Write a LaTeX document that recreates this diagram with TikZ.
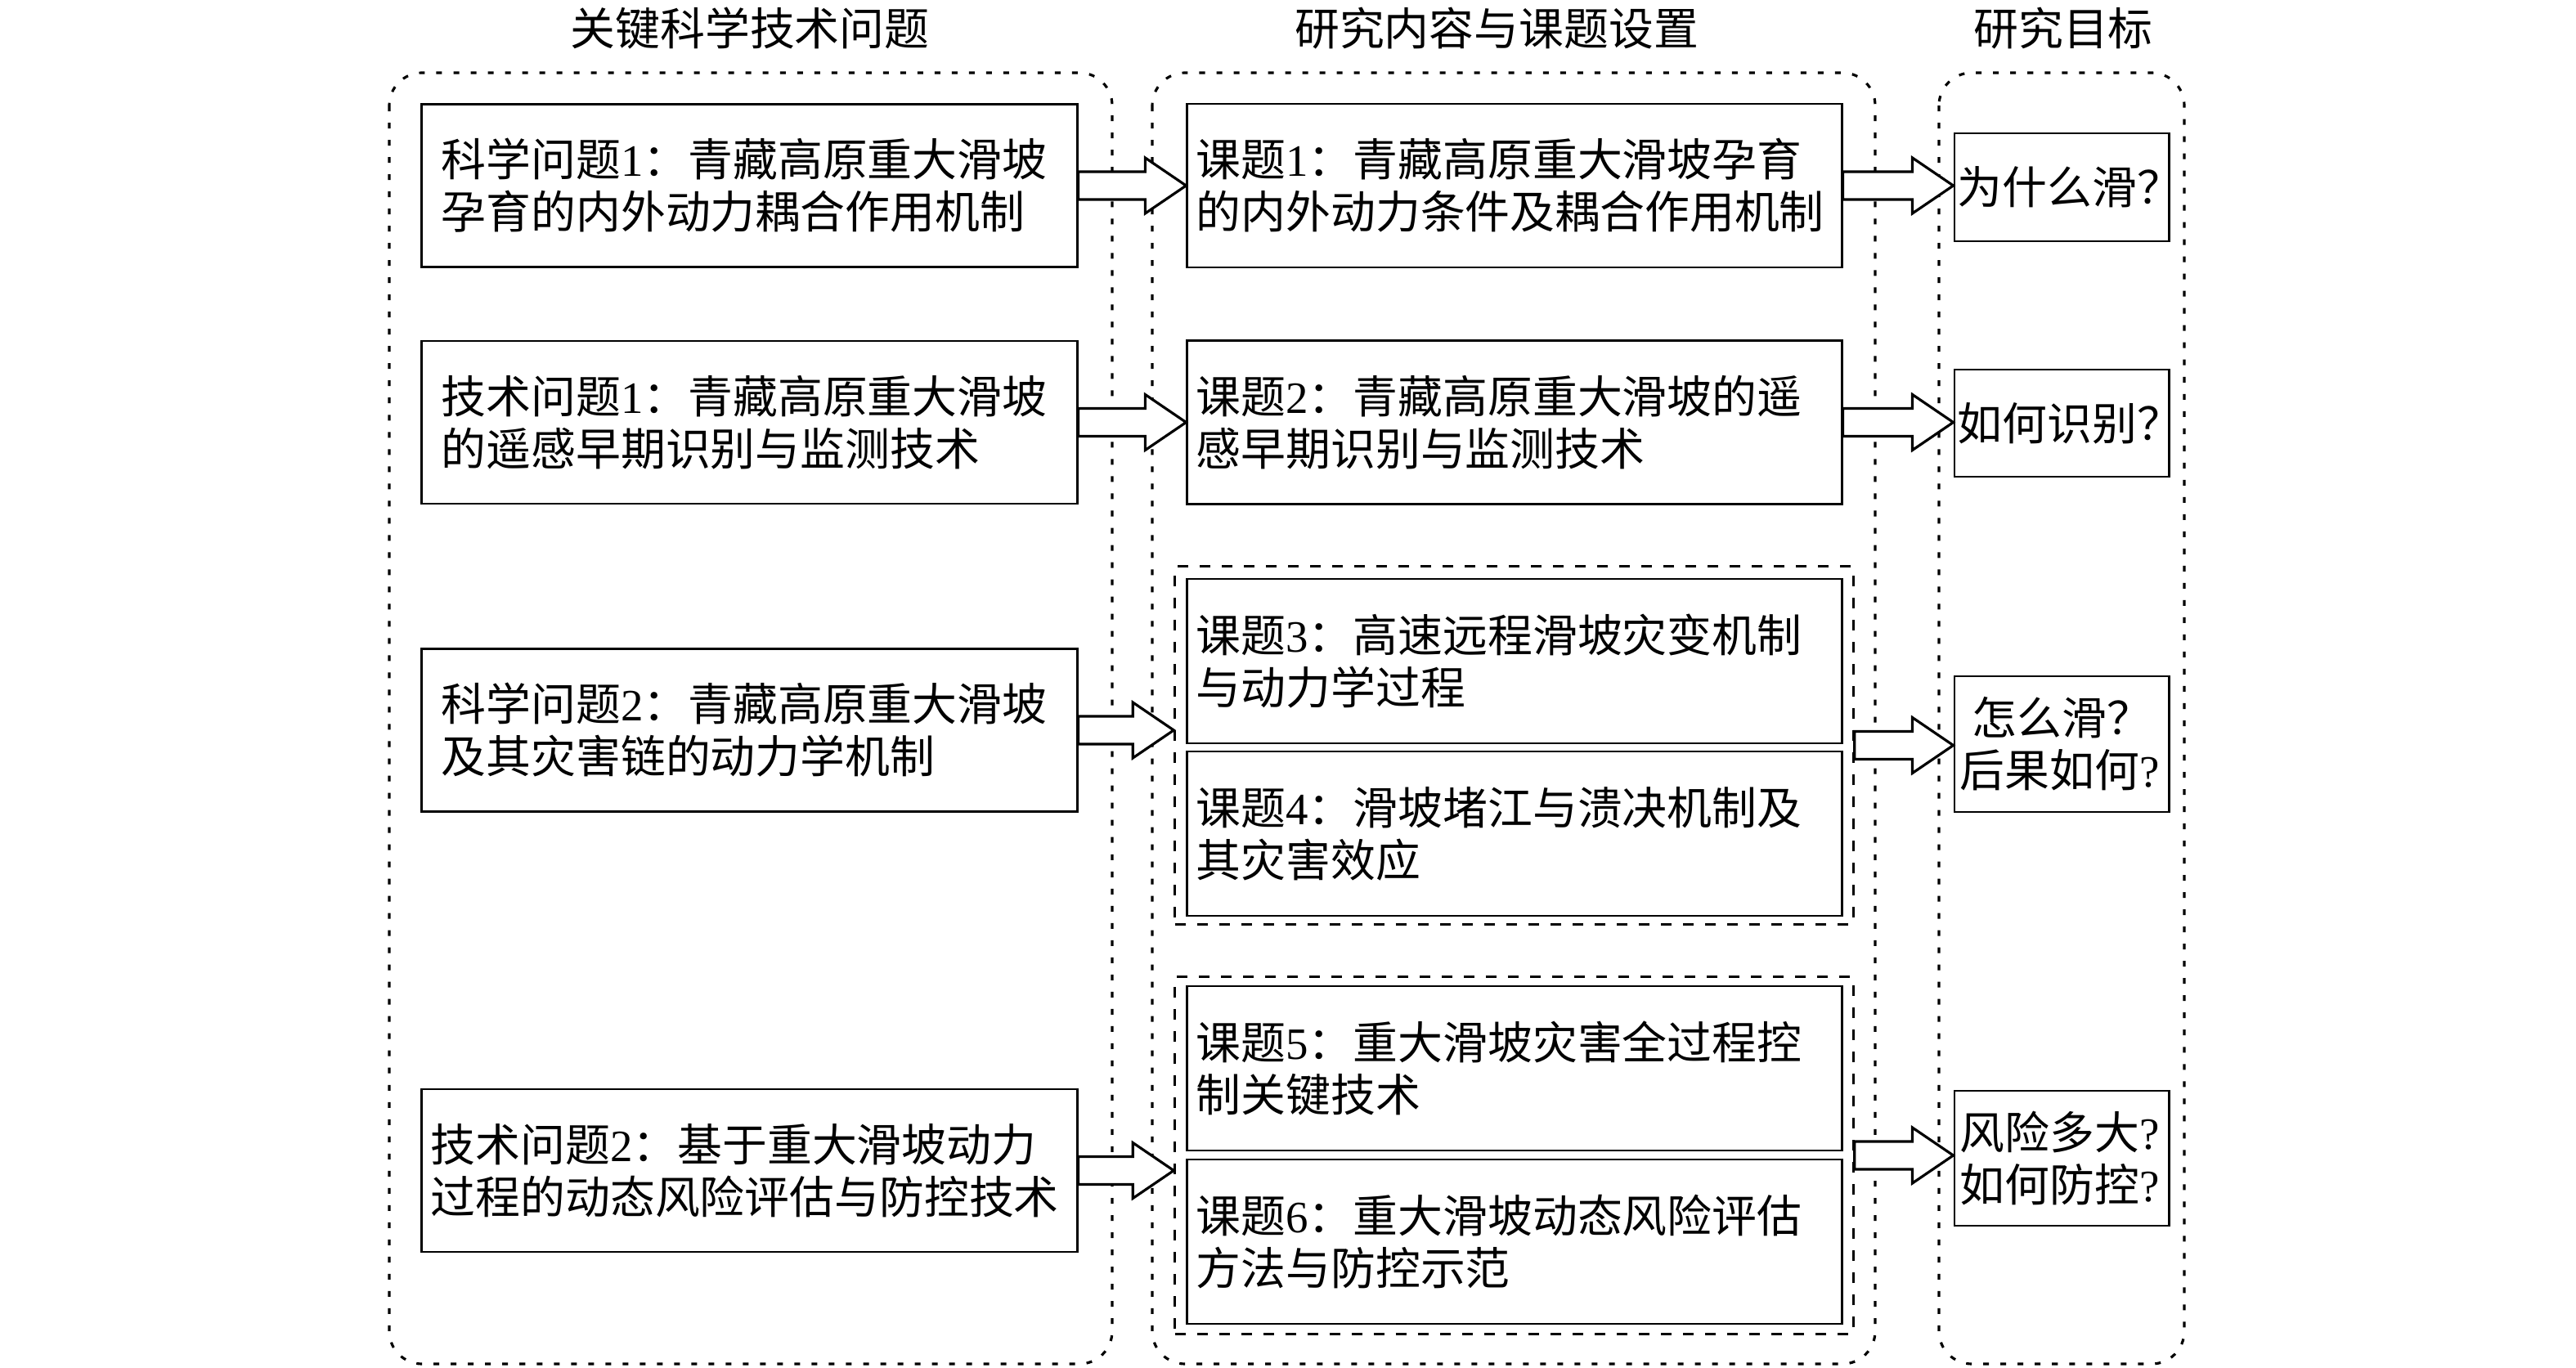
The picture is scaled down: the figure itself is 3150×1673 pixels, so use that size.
\documentclass[tikz,border=0pt]{standalone}
\usepackage{fontspec}
\setmainfont{Noto Sans CJK SC}
\newfontfamily\lat{Liberation Serif}
\usetikzlibrary{calc}
\newcommand\blockarr[2]{%
  \draw[arr] ($(#1)+(0,-17)$) -- ($(#2)+(-50,-17)$) -- ($(#2)+(-50,-34)$) -- (#2)
    -- ($(#2)+(-50,34)$) -- ($(#2)+(-50,17)$) -- ($(#1)+(0,17)$) -- cycle;}
\begin{document}
\begin{tikzpicture}[x=0.01cm,y=-0.01cm,
  every node/.style={font=\fontsize{15.6pt}{18.2pt}\selectfont},
  box/.style={draw,line width=0.8pt,align=left,inner ysep=0pt},
  lbox/.style={box,minimum width=8.01cm,minimum height=1.99cm,text width=7.53cm,inner xsep=0.24cm},
  mbox/.style={box,minimum width=8.0cm,minimum height=2.0cm,text width=7.78cm,inner xsep=0.11cm},
  rbox/.style={box,minimum width=2.62cm,text width=2.48cm,inner xsep=0.07cm},
  grp/.style={line width=0.9pt,dash pattern=on 0.07cm off 0.14cm,rounded corners=0.4cm},
  subgrp/.style={draw,line width=0.85pt,dash pattern=on 0.13cm off 0.14cm,inner sep=0pt,minimum width=8.29cm},
  arr/.style={draw,line width=0.9pt,fill=white,line join=miter}]
\fill[white] (0,0) rectangle (3150,1673);
\useasboundingbox (0,0) rectangle (3150,1673);

% headers
\node (h1) at (917,35) {关键科学技术问题};
\node (h2) at (1830,35) {研究内容与课题设置};
\node (h3) at (2523,35) {研究目标};

% column containers
\draw[grp] (476,89) rectangle (1360,1668);
\draw[grp] (1409,89) rectangle (2293,1668);
\draw[grp] (2371,89) rectangle (2671,1668);

% sub groups
\node[subgrp,minimum height=4.37cm] (gA) at (1851.5,911.5) {};
\node[subgrp,minimum height=4.36cm] (gB) at (1851.5,1413) {};

% left column
\node[lbox] (L1) at (916.5,227) {科学问题{\lat 1}：青藏高原重大滑坡\\孕育的内外动力耦合作用机制};
\node[lbox] (L2) at (916.5,516.5) {技术问题{\lat 1}：青藏高原重大滑坡\\的遥感早期识别与监测技术};
\node[lbox] (L3) at (916.5,893) {科学问题{\lat 2}：青藏高原重大滑坡\\及其灾害链的动力学机制};
\node[lbox,text width=7.79cm,inner xsep=0.11cm] (L4) at (916.5,1431.5) {技术问题{\lat 2}：基于重大滑坡动力\\过程的动态风险评估与防控技术};

% middle column
\node[mbox] (M1) at (1852,227) {课题{\lat 1}：青藏高原重大滑坡孕育\\的内外动力条件及耦合作用机制};
\node[mbox] (M2) at (1852,516.5) {课题{\lat 2}：青藏高原重大滑坡的遥\\感早期识别与监测技术};
\node[mbox,minimum height=2.01cm] (M3) at (1852,808.5) {课题{\lat 3}：高速远程滑坡灾变机制\\与动力学过程};
\node[mbox,minimum height=2.01cm] (M4) at (1852,1019.5) {课题{\lat 4}：滑坡堵江与溃决机制及\\其灾害效应};
\node[mbox,minimum height=2.01cm] (M5) at (1852,1306.5) {课题{\lat 5}：重大滑坡灾害全过程控\\制关键技术};
\node[mbox,minimum height=2.01cm] (M6) at (1852,1518.5) {课题{\lat 6}：重大滑坡动态风险评估\\方法与防控示范};

% right column
\node[rbox,minimum height=1.32cm,text width=2.54cm,inner xsep=0.04cm] (R1) at (2521,229) {为什么滑？};
\node[rbox,minimum height=1.31cm,text width=2.54cm,inner xsep=0.04cm] (R2) at (2521,517.5) {如何识别？};
\node[rbox,minimum height=1.66cm] (R3) at (2521,910) {\hspace*{0.15cm}怎么滑？\\后果如何{\lat ?}};
\node[rbox,minimum height=1.65cm] (R4) at (2521,1416.5) {风险多大{\lat ?}\\如何防控{\lat ?}};

% arrow tips
\coordinate (t1) at (L1.east -| M1.west);
\coordinate (t2) at (L2.east -| M2.west);
\coordinate (t3) at (L3.east -| gA.west);
\coordinate (t4) at (L4.east -| gB.west);
\coordinate (u1) at (M1.east -| R1.west);
\coordinate (u2) at (M2.east -| R2.west);
\coordinate (u3) at (gA.east -| R3.west);
\coordinate (u4) at (gB.east -| R4.west);

\blockarr{L1.east}{t1}
\blockarr{L2.east}{t2}
\blockarr{L3.east}{t3}
\blockarr{L4.east}{t4}
\blockarr{M1.east}{u1}
\blockarr{M2.east}{u2}
\blockarr{gA.east}{u3}
\blockarr{gB.east}{u4}
\end{tikzpicture}
\end{document}
